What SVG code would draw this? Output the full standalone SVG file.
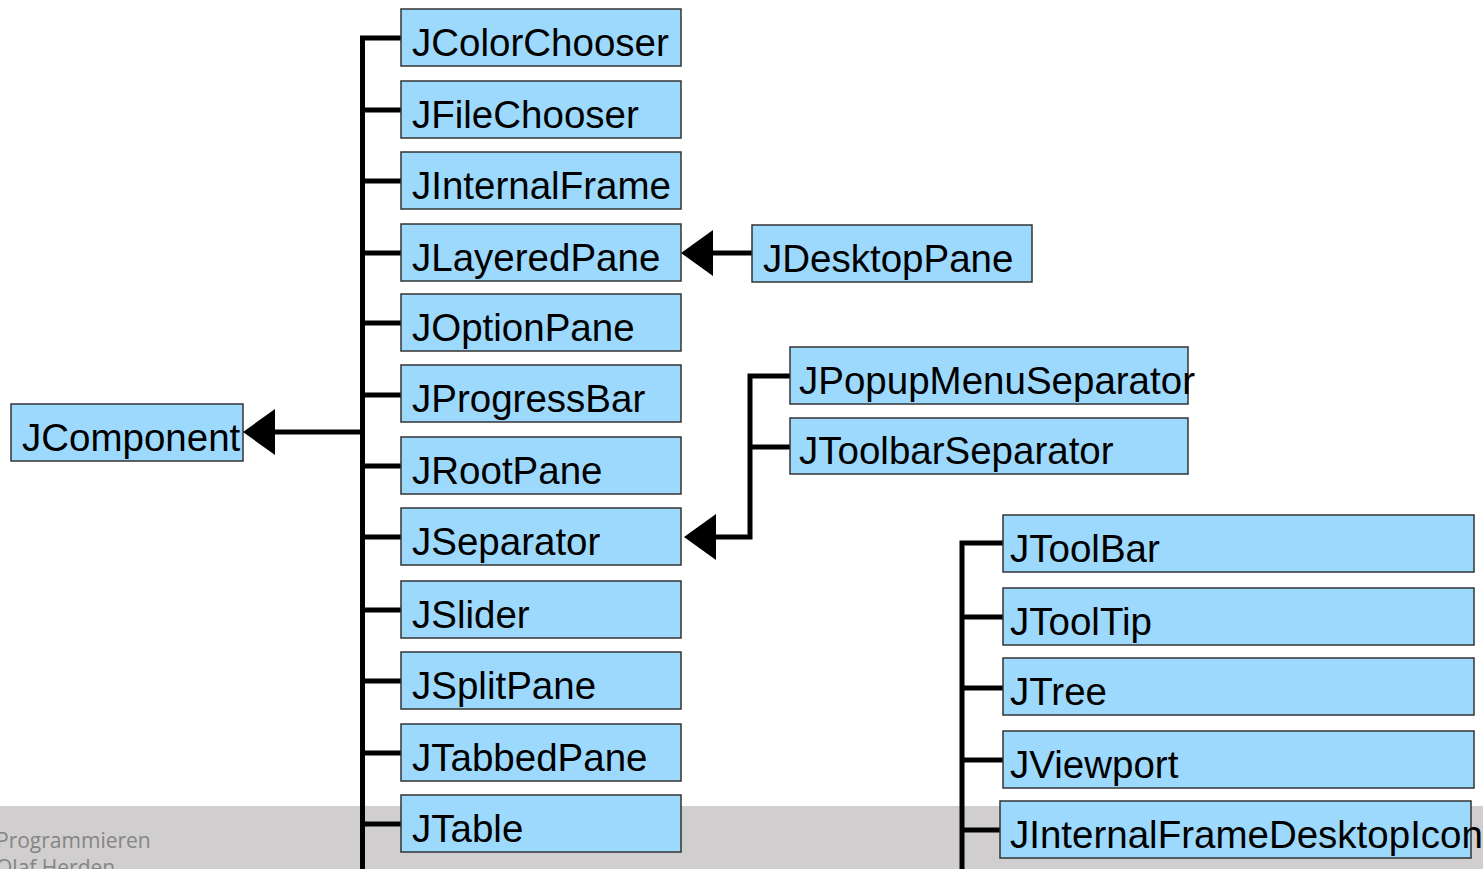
<svg xmlns="http://www.w3.org/2000/svg" width="1483" height="869" viewBox="0 0 1483 869">
  <style>
    .box rect { fill: #9dd9fd; stroke: #333333; stroke-width: 1.5; }
    .box text { font-family: "Liberation Sans", Arial, sans-serif; font-size: 38.5px; fill: #000000; }
    .link { fill: none; stroke: #000000; stroke-width: 5; stroke-linejoin: miter; }
    .footer { font-family: "Open Sans", "Liberation Sans", sans-serif; font-size: 21px; fill: #858585; }
  </style>
  <defs>
    <marker id="inherit" markerUnits="userSpaceOnUse" markerWidth="34" markerHeight="48" viewBox="0 0 34 48" refX="0" refY="24" orient="auto">
      <path d="M0,1 L32,24 L0,47 Z" fill="#000000"/>
    </marker>
  </defs>

  <!-- footer band -->
  <rect x="0" y="806" width="1483" height="63" fill="#d0cece"/>
  <text class="footer" x="-4" y="848">Programmieren</text>
  <text class="footer" x="-4" y="875">Olaf Herden</text>

  <g id="connectors">
    <path class="link" d="M401,38 H362.5 V869"/>
    <path class="link" d="M362.5,110 H401"/>
    <path class="link" d="M362.5,181 H401"/>
    <path class="link" d="M362.5,253 H401"/>
    <path class="link" d="M362.5,323 H401"/>
    <path class="link" d="M362.5,395 H401"/>
    <path class="link" d="M362.5,466 H401"/>
    <path class="link" d="M362.5,537 H401"/>
    <path class="link" d="M362.5,610 H401"/>
    <path class="link" d="M362.5,681 H401"/>
    <path class="link" d="M362.5,753 H401"/>
    <path class="link" d="M362.5,824 H401"/>
    <path class="link" d="M362.5,432 H275" marker-end="url(#inherit)"/>
    <path class="link" d="M752,253 H713" marker-end="url(#inherit)"/>
    <path class="link" d="M790,376 H750 V537 H716" marker-end="url(#inherit)"/>
    <path class="link" d="M750,447 H790"/>
    <path class="link" d="M1003,543 H962 V869"/>
    <path class="link" d="M962,617 H1003"/>
    <path class="link" d="M962,688 H1003"/>
    <path class="link" d="M962,760 H1003"/>
    <path class="link" d="M962,830 H1000"/>
  </g>

  <g id="JComponent" class="box"><rect x="11" y="404" width="232" height="57"/><text x="22" y="451">JComponent</text></g>

  <g id="JColorChooser" class="box"><rect x="401" y="9" width="280" height="57"/><text x="412" y="56">JColorChooser</text></g>
  <g id="JFileChooser" class="box"><rect x="401" y="81" width="280" height="57"/><text x="412" y="128">JFileChooser</text></g>
  <g id="JInternalFrame" class="box"><rect x="401" y="152" width="280" height="57"/><text x="412" y="199">JInternalFrame</text></g>
  <g id="JLayeredPane" class="box"><rect x="401" y="224" width="280" height="57"/><text x="412" y="271">JLayeredPane</text></g>
  <g id="JOptionPane" class="box"><rect x="401" y="294" width="280" height="57"/><text x="412" y="341">JOptionPane</text></g>
  <g id="JProgressBar" class="box"><rect x="401" y="365" width="280" height="57"/><text x="412" y="412">JProgressBar</text></g>
  <g id="JRootPane" class="box"><rect x="401" y="437" width="280" height="57"/><text x="412" y="484">JRootPane</text></g>
  <g id="JSeparator" class="box"><rect x="401" y="508" width="280" height="57"/><text x="412" y="555">JSeparator</text></g>
  <g id="JSlider" class="box"><rect x="401" y="581" width="280" height="57"/><text x="412" y="628">JSlider</text></g>
  <g id="JSplitPane" class="box"><rect x="401" y="652" width="280" height="57"/><text x="412" y="699">JSplitPane</text></g>
  <g id="JTabbedPane" class="box"><rect x="401" y="724" width="280" height="57"/><text x="412" y="771">JTabbedPane</text></g>
  <g id="JTable" class="box"><rect x="401" y="795" width="280" height="57"/><text x="412" y="842">JTable</text></g>

  <g id="JDesktopPane" class="box"><rect x="752" y="225" width="280" height="57"/><text x="763" y="272">JDesktopPane</text></g>
  <g id="JPopupMenuSeparator" class="box"><rect x="790" y="347" width="398" height="57"/><text x="799" y="394">JPopupMenuSeparator</text></g>
  <g id="JToolbarSeparator" class="box"><rect x="790" y="418" width="398" height="56"/><text x="799" y="464">JToolbarSeparator</text></g>

  <g id="JToolBar" class="box"><rect x="1003" y="515" width="471" height="57"/><text x="1010" y="562">JToolBar</text></g>
  <g id="JToolTip" class="box"><rect x="1003" y="588" width="471" height="57"/><text x="1010" y="635">JToolTip</text></g>
  <g id="JTree" class="box"><rect x="1003" y="658" width="471" height="57"/><text x="1010" y="705">JTree</text></g>
  <g id="JViewport" class="box"><rect x="1003" y="731" width="471" height="57"/><text x="1010" y="778">JViewport</text></g>
  <g id="JInternalFrameDesktopIcon" class="box"><rect x="1000" y="801" width="471" height="57"/><text x="1010" y="848">JInternalFrameDesktopIcon</text></g>
</svg>
